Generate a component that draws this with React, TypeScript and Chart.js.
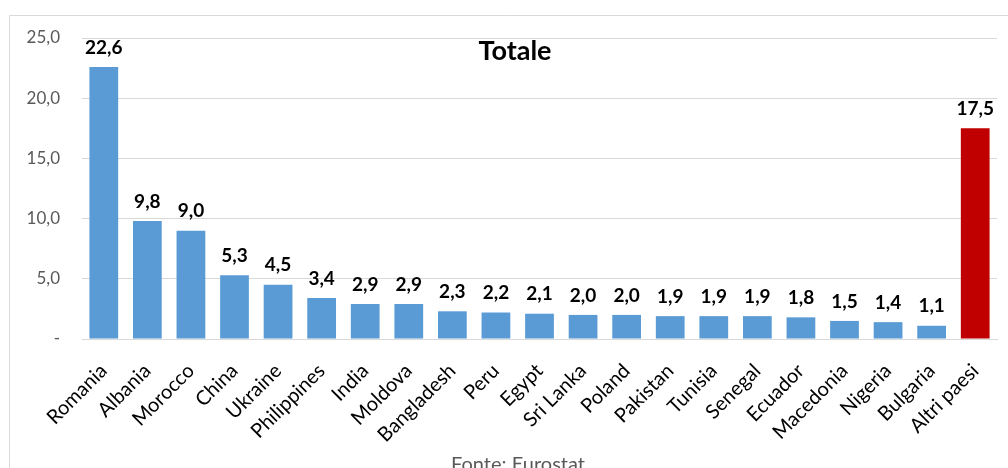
import React, { useEffect, useRef } from "react";
import { Chart, registerables } from "chart.js";

Chart.register(...registerables);

const countries = [
  "Romania", "Albania", "Morocco", "China", "Ukraine", "Philippines", "India",
  "Moldova", "Bangladesh", "Peru", "Egypt", "Sri Lanka", "Poland", "Pakistan",
  "Tunisia", "Senegal", "Ecuador", "Macedonia", "Nigeria", "Bulgaria", "Altri paesi",
];
const shares = [
  22.6, 9.8, 9.0, 5.3, 4.5, 3.4, 2.9, 2.9, 2.3, 2.2, 2.1, 2.0, 2.0, 1.9, 1.9,
  1.9, 1.8, 1.5, 1.4, 1.1, 17.5,
];
const yTicks = [0, 5, 10, 15, 20, 25];
const chartTitle = "Totale";
const sourceNote = "Fonte: Eurostat";

const FONT = "Lato, 'Open Sans', sans-serif";
const fmt = (v: number) => (v === 0 ? "-" : v.toFixed(1).replace(".", ","));

export default function App() {
  const ref = useRef<HTMLCanvasElement | null>(null);

  useEffect(() => {
    const canvas = ref.current;
    if (!canvas) return;

    const decorations = {
      id: "decorations",
      beforeDraw(chart: any) {
        const ctx = chart.ctx;
        ctx.save();
        ctx.fillStyle = "#ffffff";
        ctx.fillRect(0, 0, chart.width, chart.height);
        ctx.strokeStyle = "#d9d9d9";
        ctx.lineWidth = 1;
        ctx.beginPath();
        ctx.moveTo(9.5, chart.height + 2);
        ctx.lineTo(9.5, 15.5);
        ctx.lineTo(chart.width + 2, 15.5);
        ctx.stroke();
        ctx.restore();
      },
      afterDraw(chart: any) {
        const ctx = chart.ctx;
        ctx.save();
        // title
        ctx.fillStyle = "#000000";
        ctx.font = `bold 27px ${FONT}`;
        ctx.textAlign = "center";
        ctx.textBaseline = "middle";
        ctx.fillText(chartTitle, 515, 51);
        // value labels
        const meta = chart.getDatasetMeta(0);
        ctx.font = `bold 19px ${FONT}`;
        ctx.textBaseline = "bottom";
        meta.data.forEach((bar: any, i: number) => {
          ctx.fillText(fmt(shares[i]), bar.x, bar.y - 10);
        });
        // source
        ctx.fillStyle = "#595959";
        ctx.font = `20px ${FONT}`;
        ctx.textBaseline = "middle";
        ctx.fillText(sourceNote, 518, 465);
        ctx.restore();
      },
    };

    const chart = new Chart(canvas, {
      type: "bar",
      data: {
        labels: countries,
        datasets: [
          {
            data: shares,
            backgroundColor: countries.map((_, i) =>
              i === countries.length - 1 ? "#c00000" : "#5b9bd5"
            ),
            borderWidth: 0,
            categoryPercentage: 1,
            barPercentage: 0.66,
          },
        ],
      },
      options: {
        responsive: false,
        animation: false,
        layout: { padding: { top: 38, right: 11, left: 0, bottom: 0 } },
        plugins: {
          legend: { display: false },
          tooltip: { enabled: false },
          title: { display: false },
        },
        scales: {
          x: {
            grid: { display: false },
            border: { color: "#d9d9d9", width: 1 },
            ticks: {
              color: "#000000",
              font: { family: FONT, size: 20 },
              minRotation: 45,
              maxRotation: 45,
              autoSkip: false,
              padding: 12,
            },
            afterFit(scale: any) {
              scale.height = 129;
            },
          },
          y: {
            min: 0,
            max: 25,
            afterBuildTicks(scale: any) {
              scale.ticks = yTicks.map((v) => ({ value: v }));
            },
            grid: { color: "#d9d9d9", drawTicks: false },
            border: { display: false },
            ticks: {
              color: "#595959",
              font: { family: FONT, size: 17 },
              padding: 22,
              callback: (v: any) => fmt(Number(v)),
            },
            afterFit(scale: any) {
              scale.width = 82;
            },
          },
        },
      },
      plugins: [decorations],
    });

    return () => chart.destroy();
  }, []);

  return (
    <div style={{ position: "fixed", left: 0, top: 0, width: 1008, height: 468 }}>
      <canvas ref={ref} width={1008} height={468} />
    </div>
  );
}
